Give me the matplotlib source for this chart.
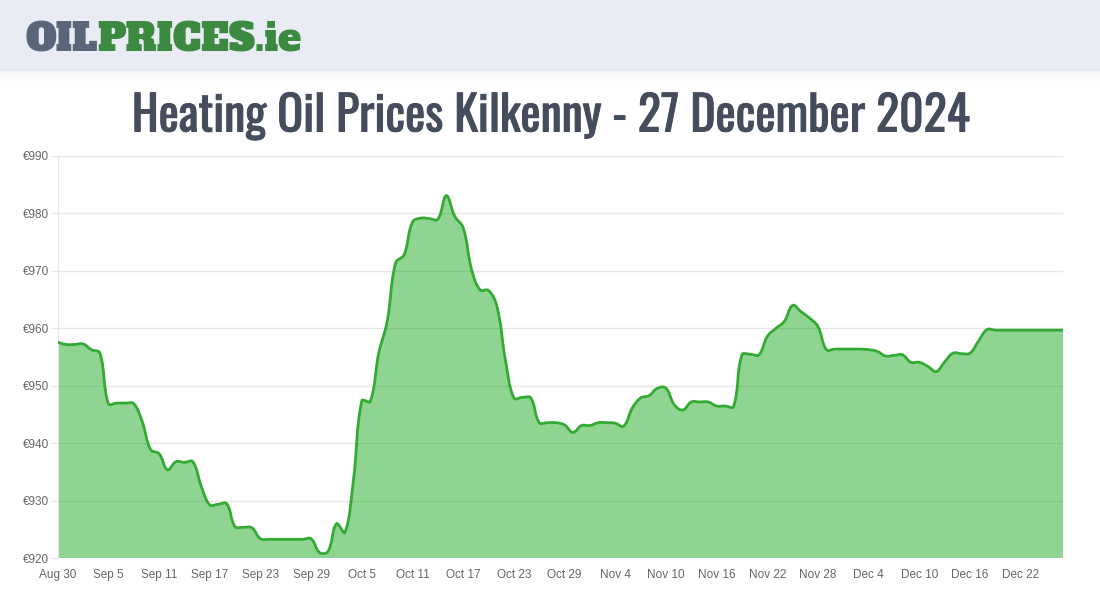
import numpy as np
import pandas as pd
import matplotlib
matplotlib.use("Agg")
import matplotlib.pyplot as plt
import matplotlib.patheffects as pe
from matplotlib.path import Path
from matplotlib.patches import PathPatch, Rectangle

# ---------------- data ----------------
dates = pd.date_range("2024-08-30", "2024-12-27", freq="D")
prices = [
    957.6, 957.2, 957.2, 957.3, 956.3, 955.7, 946.9, 947.0, 947.0, 946.9,
    943.8, 938.9, 938.2, 935.4, 936.8, 936.7, 936.8, 932.5, 929.3, 929.4,
    929.5, 925.5, 925.4, 925.3, 923.4, 923.3, 923.3, 923.3, 923.3, 923.3,
    923.4, 921.0, 921.2, 926.0, 924.5, 933.5, 947.4, 947.3, 955.7, 961.2,
    971.4, 972.8, 978.5, 979.2, 979.1, 979.0, 983.1, 979.5, 977.5, 970.2,
    966.7, 966.6, 963.8, 954.5, 947.9, 948.0, 947.9, 943.6, 943.6, 943.6,
    943.2, 941.9, 943.1, 943.1, 943.6, 943.6, 943.5, 943.0, 946.1, 947.9,
    948.3, 949.6, 949.6, 946.7, 945.8, 947.2, 947.2, 947.2, 946.5, 946.5,
    946.4, 955.4, 955.5, 955.4, 958.6, 960.0, 961.2, 964.0, 962.9, 961.8,
    960.3, 956.3, 956.4, 956.4, 956.4, 956.4, 956.3, 956.0, 955.2, 955.3,
    955.4, 954.1, 954.1, 953.4, 952.5, 954.2, 955.7, 955.6, 955.7, 957.8,
    959.8, 959.7, 959.7, 959.7, 959.7, 959.7, 959.7, 959.7, 959.7, 959.7,
]
labels = [d.strftime("%b ") + str(d.day) for d in dates]
y_ticks = [920, 930, 940, 950, 960, 970, 980, 990]

title = "Heating Oil Prices Kilkenny - 27 December 2024"

LINE = "#33ab33"
FILL = "#22ab24"
GRID = "#e6e6e6"
TICK = "#666666"
TITLE_C = "#454d5d"


def spline_path(ax, xs, ys, tension=0.4):
    # bezier curve through the points, like chart.js "tension"
    pts = ax.transData.transform(np.column_stack([xs, ys]))
    n = len(pts)
    cp_in, cp_out = [], []
    for i in range(n):
        prev = pts[i - 1] if i > 0 else pts[i]
        nxt = pts[i + 1] if i < n - 1 else pts[i]
        d01 = np.hypot(*(pts[i] - prev))
        d12 = np.hypot(*(nxt - pts[i]))
        tot = d01 + d12
        s01 = d01 / tot if tot else 0
        s12 = d12 / tot if tot else 0
        cp_in.append(pts[i] - tension * s01 * (nxt - prev))
        cp_out.append(pts[i] + tension * s12 * (nxt - prev))
    verts = [pts[0]]
    codes = [Path.MOVETO]
    for i in range(n - 1):
        verts += [cp_out[i], cp_in[i + 1], pts[i + 1]]
        codes += [Path.CURVE4] * 3
    inv = ax.transData.inverted()
    return inv.transform(np.array(verts)), codes


fig = plt.figure(figsize=(11, 6), dpi=100)

# header band
fig.patches.append(Rectangle((0, 1 - 70 / 600), 1, 70 / 600, transform=fig.transFigure,
                             color="#e9ecf4", zorder=0))
for k in range(8):
    fig.patches.append(Rectangle((0, 1 - (71 + k * 1.5) / 600), 1, 1.5 / 600,
                                 transform=fig.transFigure, color="#dfe2ea",
                                 alpha=0.35 * (1 - k / 8), lw=0, zorder=0))

# title (thin stroke makes the variable Oswald look like its medium cut)
fig.text(0.5, 1 - 116.5 / 600, title, ha="center", va="center",
         family=["Oswald", "DejaVu Sans"], weight="bold",
         size=34.5, color=TITLE_C,
         path_effects=[pe.withStroke(linewidth=0.7, foreground=TITLE_C)])

# logo, two colours side by side
logo_font = ["Alfa Slab One", "DejaVu Serif"]
t1 = fig.text(25 / 1100, 1 - 51 / 600, "OIL", family=logo_font,
              size=28, color="#5b6579", va="baseline", ha="left")
fig.canvas.draw()
bb = t1.get_window_extent()
fig.text(bb.x1 / 1100, 1 - 51 / 600, "PRICES.ie", family=logo_font,
         size=28, color="#3b8a3f", va="baseline", ha="left")

ax = fig.add_axes([57.7 / 1100, 1 - 558.3 / 600, (1063 - 57.7) / 1100, (558.3 - 156) / 600])
x = np.arange(len(prices))
ax.set_xlim(0, len(prices) - 1)
ax.set_ylim(920, 990)

verts, codes = spline_path(ax, x, prices)
fill_verts = np.vstack([verts, [[x[-1], 920], [x[0], 920], verts[0]]])
fill_codes = codes + [Path.LINETO, Path.LINETO, Path.CLOSEPOLY]
ax.add_patch(PathPatch(Path(fill_verts, fill_codes), facecolor=FILL, alpha=0.5,
                       edgecolor="none", zorder=2))
ax.add_patch(PathPatch(Path(verts, codes), facecolor="none", edgecolor=LINE,
                       lw=2, zorder=3))

ax.set_yticks(y_ticks)
ax.set_yticklabels(["€" + str(v) for v in y_ticks])
ax.set_xticks(x[::6])
ax.set_xticklabels(labels[::6])
ax.yaxis.grid(True, color=GRID, lw=1, zorder=1)
ax.set_axisbelow(True)
ax.tick_params(axis="y", length=5, color=GRID, labelsize=8.5, labelcolor=TICK, pad=1)
ax.tick_params(axis="x", length=0, labelsize=8.5, labelcolor=TICK, pad=8)
for lab in ax.get_xticklabels() + ax.get_yticklabels():
    lab.set_family("Liberation Sans")
for s in ["top", "right", "bottom"]:
    ax.spines[s].set_visible(False)
ax.spines["left"].set_color(GRID)

fig.savefig("out.png", dpi=100)
